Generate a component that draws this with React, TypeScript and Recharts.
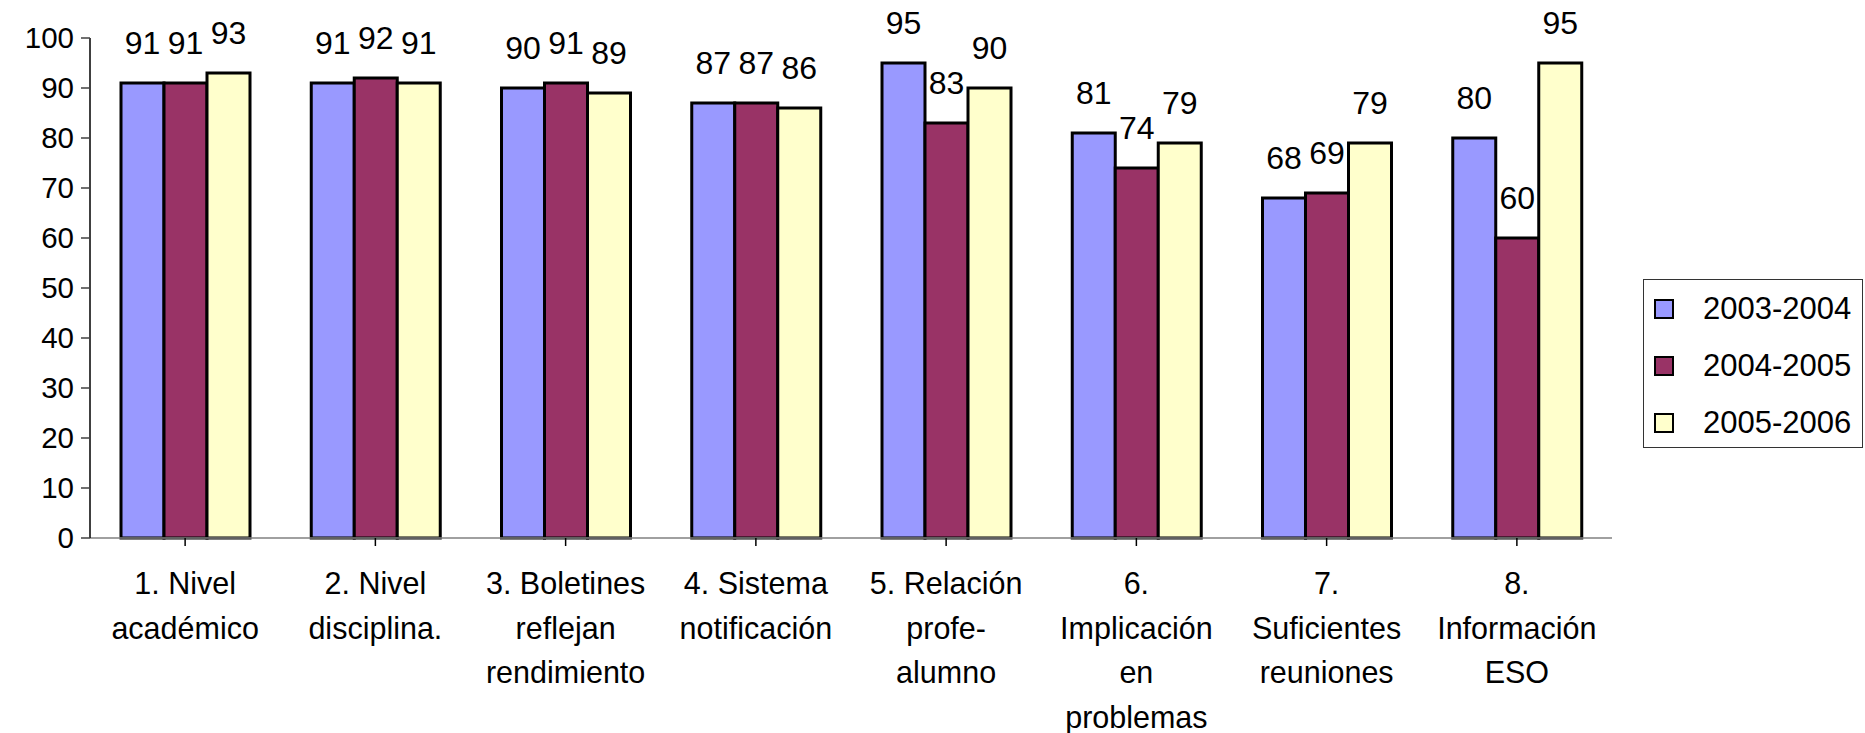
import { BarChart, Bar, XAxis, YAxis, Legend, LabelList } from 'recharts';

const categories = [
  '1. Nivel\nacadémico',
  '2. Nivel\ndisciplina.',
  '3. Boletines\nreflejan\nrendimiento',
  '4. Sistema\nnotificación',
  '5. Relación\nprofe-\nalumno',
  '6.\nImplicación\nen\nproblemas',
  '7.\nSuficientes\nreuniones',
  '8.\nInformación\nESO',
];

const y2003 = [91, 91, 90, 87, 95, 81, 68, 80];
const y2004 = [91, 92, 91, 87, 83, 74, 69, 60];
const y2005 = [93, 91, 89, 86, 90, 79, 79, 95];

const yTicks = [0, 10, 20, 30, 40, 50, 60, 70, 80, 90, 100];

const series = [
  { key: '2003-2004', values: y2003, color: '#9999FF' },
  { key: '2004-2005', values: y2004, color: '#993366' },
  { key: '2005-2006', values: y2005, color: '#FFFFCC' },
];

const data = categories.map((name, i) => {
  const row: Record<string, string | number> = { name };
  series.forEach((s) => {
    row[s.key] = s.values[i];
  });
  return row;
});

const FONT = '"Liberation Sans", Arial, Helvetica, sans-serif';

function CategoryTick(props: any) {
  const { x, y, payload } = props;
  const lines = String(payload.value).split('\n');
  return (
    <text x={x} y={y + 48} textAnchor="middle" fontSize={30.5} fontFamily={FONT} fill="#000">
      {lines.map((l, i) => (
        <tspan key={i} x={x} dy={i === 0 ? 0 : 44.5}>
          {l}
        </tspan>
      ))}
    </text>
  );
}

function LegendBox() {
  return (
    <div
      style={{
        width: 220,
        height: 169,
        border: '1.5px solid #333',
        background: '#fff',
        boxSizing: 'border-box',
        position: 'relative',
        fontFamily: FONT,
        fontSize: 31,
        color: '#000',
      }}
    >
      {series.map((s, i) => (
        <div
          key={s.key}
          style={{ position: 'absolute', left: 10, top: 18 + i * 57, height: 22, display: 'flex', alignItems: 'center' }}
        >
          <div style={{ width: 20, height: 20, background: s.color, border: '2.5px solid #000', boxSizing: 'border-box' }} />
          <span style={{ marginLeft: 29, lineHeight: '22px', whiteSpace: 'nowrap' }}>{s.key}</span>
        </div>
      ))}
    </div>
  );
}

export default function App() {
  return (
    <div style={{ width: 1865, height: 733, background: '#fff', position: 'relative' }}>
      <style>{'body{margin:0}'}</style>
      <BarChart
        width={1865}
        height={733}
        data={data}
        margin={{ top: 38, right: 253, bottom: 0, left: 0 }}
        barCategoryGap={31}
        barGap={0}
      >
        <XAxis
          dataKey="name"
          interval={0}
          height={195}
          tickSize={8}
          tickMargin={0}
          axisLine={{ stroke: '#808080', strokeWidth: 1.5 }}
          tickLine={{ stroke: '#000', strokeWidth: 1.5 }}
          tick={<CategoryTick />}
        />
        <YAxis
          width={90}
          domain={[0, 100]}
          ticks={yTicks}
          interval={0}
          tickSize={9}
          tickMargin={7}
          axisLine={{ stroke: '#000', strokeWidth: 1.5 }}
          tickLine={{ stroke: '#404040', strokeWidth: 1.5 }}
          tick={{ fontSize: 29.5, fontFamily: FONT, fill: '#000' }}
        />
        <Legend
          layout="horizontal"
          verticalAlign="middle"
          align="center"
          content={<LegendBox />}
          wrapperStyle={{ left: 1643, top: 279, width: 220, height: 169 }}
        />
        {series.map((s) => (
          <Bar key={s.key} dataKey={s.key} fill={s.color} stroke="#000" strokeWidth={3} isAnimationActive={false}>
            <LabelList
              dataKey={s.key}
              position="top"
              offset={29}
              style={{ fontSize: 32, fontFamily: FONT, fill: '#000' }}
            />
          </Bar>
        ))}
      </BarChart>
    </div>
  );
}
